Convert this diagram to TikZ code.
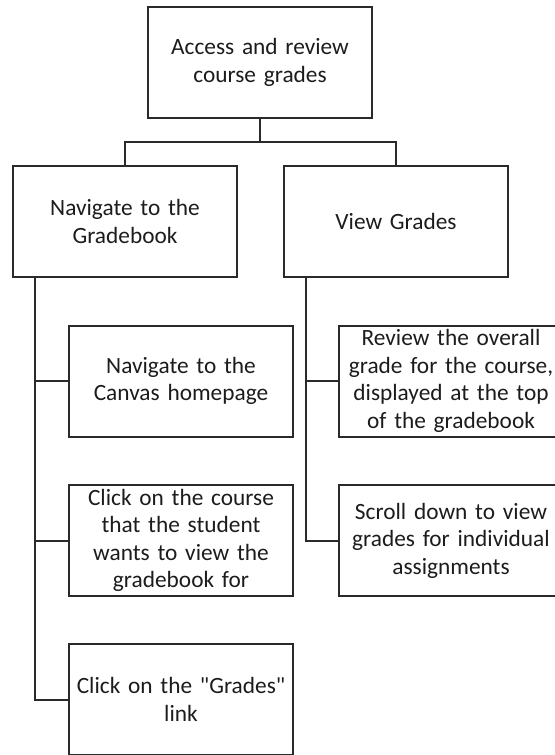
\documentclass[tikz,border=0pt]{standalone}
\usepackage{fontspec}
\setmainfont{Carlito}[Ligatures=TeXOff]
\usetikzlibrary{positioning}
\definecolor{boxline}{HTML}{2A2A2A}
\definecolor{boxtext}{HTML}{1C1C1C}

\begin{document}
\begin{tikzpicture}[x=0.75pt,y=-0.75pt,
    taskbox/.style={draw=boxline, line width=1.5pt, text=boxtext, align=center,
        text width=168pt, minimum height=83.25pt, inner sep=0pt,
        font=\fontsize{17.5pt}{20.6pt}\selectfont},
    link/.style={draw=boxline, line width=1.5pt}]

        \useasboundingbox (0,0) rectangle (554,755);

        % top box
        \node[taskbox] (access) at (260,62.5) {Access and review\\course grades};

        % second row
        \node[taskbox] (nav) at (125,221.5) {Navigate to the\\Gradebook};
        \node[taskbox] (view) at (396,221.5) {View Grades};

        \coordinate (split) at (260,142);
        \draw[link] (access) -- (split);
        \draw[link] (nav.north) |- (split) -| (view.north);

        % steps under Navigate to the Gradebook
        \node[taskbox] (canvas) at (181,381) {Navigate to the\\Canvas homepage};
        \node[taskbox] (course) at (181,540.5) {Click on the course\\that the student\\wants to view the\\gradebook for};
        \node[taskbox] (gradelink) at (181,699.5) {Click on the "Grades"\\link};

        \coordinate (navleg) at (35,277);
        \draw[link] (navleg) |- (canvas.west);
        \draw[link] (navleg) |- (course.west);
        \draw[link] (navleg) |- (gradelink.west);

        % steps under View Grades
        \node[taskbox] (overall) at (451,381) {Review the overall\\grade for the course,\\displayed at the top\\of the gradebook};
        \node[taskbox] (scroll) at (451,540.5) {Scroll down to view\\grades for individual\\assignments};

        \coordinate (viewleg) at (306,277);
        \draw[link] (viewleg) |- (overall.west);
        \draw[link] (viewleg) |- (scroll.west);

\end{tikzpicture}
\end{document}
